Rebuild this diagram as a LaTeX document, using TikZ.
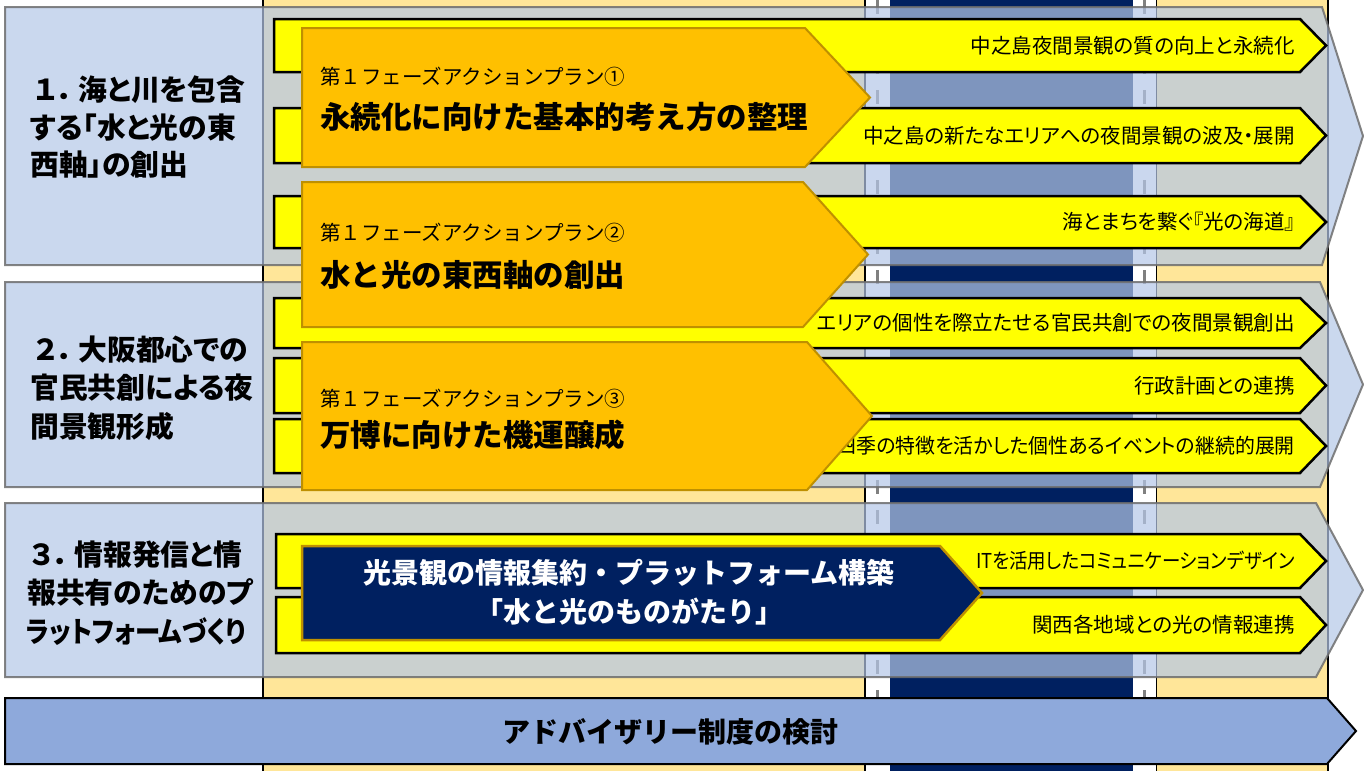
\documentclass[tikz,border=0pt]{standalone}
\usepackage{fontspec}
\setmainfont{Noto Sans CJK JP}
\newfontfamily\jpp[RawFeature=+palt]{Noto Sans CJK JP}
\definecolor{colbg}{RGB}{255,230,153}
\definecolor{navy}{RGB}{0,32,96}
\definecolor{overlay}{RGB}{180,199,231}
\definecolor{ovline}{RGB}{110,110,110}
\definecolor{ybar}{RGB}{255,255,0}
\definecolor{obox}{RGB}{255,192,0}
\definecolor{gold}{RGB}{191,144,0}
\definecolor{botbar}{RGB}{142,169,219}
\definecolor{dashgray}{RGB}{128,128,128}
\newcommand\pent[6]{\path[#1] (#2,#3) -- (#4,#3) -- (#5,{0.5*(#3+#6)}) -- (#4,#6) -- (#2,#6) -- cycle;}
\newcommand\secnum[1]{{\rmfamily\bfseries #1}．\hspace{4pt}}
\tikzset{
  section/.style={fill=overlay, fill opacity=0.7, draw=ovline, draw opacity=0.85, line width=2pt},
  ybarst/.style={fill=ybar, draw=black, line width=2.5pt, line join=miter},
  oboxst/.style={fill=obox, draw=gold, line width=2pt},
  nboxst/.style={fill=navy, draw=gold, line width=2.5pt},
  botst/.style={fill=botbar, draw=black, line width=2pt},
  dashline/.style={draw=dashgray, line width=3.5pt, dash pattern=on 14pt off 16pt},
  lbl/.style={inner sep=0pt, anchor=base west, font=\jpp\bfseries\fontsize{28.8}{34}\selectfont},
  ytxt/.style={inner sep=0pt, anchor=base east, font=\jpp\fontsize{20.5}{24}\selectfont},
  otxta/.style={inner sep=0pt, anchor=base west, font=\fontsize{20.5}{24}\selectfont},
  otxtb/.style={inner sep=0pt, anchor=base west, font=\bfseries\fontsize{30.5}{36}\selectfont},
  ntxt/.style={inner sep=0pt, anchor=base, text=white, font=\bfseries\fontsize{28}{34}\selectfont},
  btxt/.style={inner sep=0pt, anchor=base, font=\bfseries\fontsize{28}{34}\selectfont},
}
\begin{document}
\begin{tikzpicture}[x=1pt,y=-1pt]
\useasboundingbox (0,0) rectangle (1364,771);
% background column
\fill[colbg] (263,0) rectangle (1328,771);
\fill[white] (865,0) rectangle (890,771);
\fill[white] (1133,0) rectangle (1156,771);
\fill[navy] (890,0) rectangle (1133,771);
\draw[dashline] (877.5,0) -- (877.5,771);
\draw[dashline] (1144.5,0) -- (1144.5,771);
\draw[black, line width=2pt] (263,0) -- (263,771);
\draw[black, line width=2pt] (1328,0) -- (1328,771);
\draw[black, line width=1.5pt] (865,0) -- (865,771);
\draw[black, line width=1.5pt] (1156.5,0) -- (1156.5,771);
% section chevrons
\pent{section}{5}{7}{1322}{1363}{265}
\pent{section}{5}{282}{1320}{1363}{487}
\pent{section}{5}{503}{1316}{1363}{677}
% bottom bar
\pent{botst}{5}{698}{1327}{1356}{764}
% yellow bars
\pent{ybarst}{274}{19}{1300}{1326}{72}
\pent{ybarst}{274}{108}{1300}{1326}{163}
\pent{ybarst}{274}{196}{1300}{1326}{248}
\pent{ybarst}{274}{298}{1300}{1326}{348}
\pent{ybarst}{274}{358}{1300}{1326}{413}
\pent{ybarst}{274}{419}{1300}{1326}{473}
\pent{ybarst}{276}{534}{1300}{1326}{588}
\pent{ybarst}{276}{597}{1300}{1326}{653}
% yellow texts (below the orange boxes)
\node[ytxt] (y1) at (1295,53.5) {中之島夜間景観の質の向上と永続化};
\node[ytxt] (y2) at (1295,143) {中之島の新たなエリアへの夜間景観の波及・展開};
\node[ytxt] (y3) at (1295,229.5) {海とまちを繋ぐ『光の海道』};
\node[ytxt] (y4) at (1295,330.5) {エリアの個性を際立たせる官民共創での夜間景観創出};
\node[ytxt] (y5) at (1295,393) {行政計画との連携};
\node[ytxt] (y6) at (1295,453.5) {\scalebox{0.97}[1]{四季の特徴を活かした個性あるイベントの継続的展開}};
\node[ytxt] (y7) at (1295,568.5) {\scalebox{0.9}[1]{ITを活用したコミュニケーションデザイン}};
\node[ytxt] (y8) at (1295,632.5) {関西各地域との光の情報連携};
% orange boxes
\pent{oboxst}{302}{28}{805}{870}{167}
\pent{oboxst}{302}{182}{803}{868}{327}
\pent{oboxst}{302}{342}{807}{872}{490}
% navy box
\pent{nboxst}{302}{546}{940}{982}{640}
% section labels
\node[lbl] (s1a) at (31,100) {\secnum{１}海と川を包含};
\node[lbl] (s1b) at (30,138) {する「水と光の東};
\node[lbl] (s1c) at (30,175) {西軸」の創出};
\node[lbl] (s2a) at (31,360) {\secnum{２}大阪都心での};
\node[lbl] (s2b) at (30,398) {官民共創による夜};
\node[lbl] (s2c) at (30,437) {間景観形成};
\node[lbl] (s3a) at (27,565) {\secnum{３}情報発信と情};
\node[lbl] (s3b) at (27,603) {報共有のためのプ};
\node[lbl] (s3c) at (26,642) {\scalebox{0.88}[1]{ラットフォームづくり}};
% orange box texts
\node[otxta] (o1a) at (320,84) {第１フェーズアクションプラン①};
\node[otxtb] (o1b) at (320,128) {永続化に向けた基本的考え方の整理};
\node[otxta] (o2a) at (320,240) {第１フェーズアクションプラン②};
\node[otxtb] (o2b) at (320,286) {水と光の東西軸の創出};
\node[otxta] (o3a) at (320,406) {第１フェーズアクションプラン③};
\node[otxtb] (o3b) at (320,446) {万博に向けた機運醸成};
% navy box text
\node[ntxt] (n1) at (629,583) {光景観の情報集約・プラットフォーム構築};
\node[ntxt] (n2) at (629,622) {「水と光のものがたり」};
% bottom text
\node[btxt] (b1) at (670,742) {アドバイザリー制度の検討};
\end{tikzpicture}
\end{document}
